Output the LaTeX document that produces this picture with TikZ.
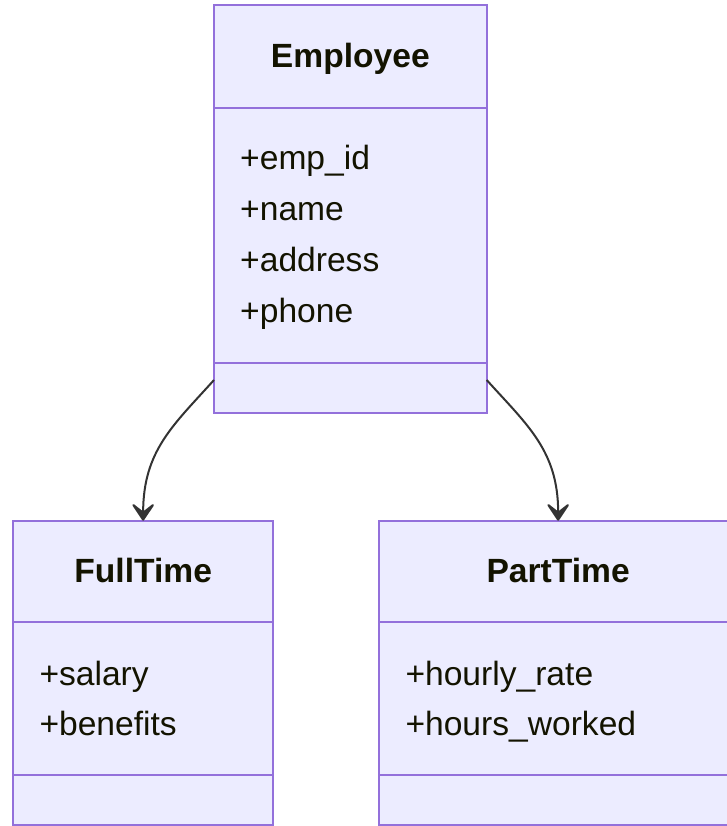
\documentclass[tikz,border=0pt]{standalone}
\usepackage{fontspec}
\setmainfont{Liberation Sans}
\usetikzlibrary{arrows.meta,calc}
\definecolor{boxfill}{HTML}{ECECFF}
\definecolor{boxline}{HTML}{9370DB}
\definecolor{txtcol}{HTML}{131300}
\definecolor{edgecol}{HTML}{333333}
\begin{document}
\begin{tikzpicture}[x=1pt,y=-1pt,
  classbox/.style={rectangle, draw=boxline, fill=boxfill, line width=2pt, inner sep=0pt, outer sep=0pt},
  divider/.style={draw=boxline, line width=2pt},
  titletext/.style={anchor=base, inner sep=0pt, text=txtcol, font=\fontsize{33.6}{40}\selectfont\bfseries},
  attrtext/.style={anchor=base west, inner sep=0pt, text=txtcol, font=\fontsize{33.6}{40}\selectfont},
  edgeline/.style={draw=edgecol, line width=2pt, -{Stealth[length=21pt,width=28pt,inset=11pt,round]}}
]
\useasboundingbox (0,0) rectangle (727,826);
\clip (0,0) rectangle (727,826);

% Employee
\node[classbox, minimum width=272.7pt, minimum height=407.8pt] (emp) at (350.35,209.4) {};
\draw[divider] ($(emp.north west)+(0,102.2)$) -- ($(emp.north east)+(0,102.2)$);
\draw[divider] ($(emp.south west)+(0,-50)$) -- ($(emp.south east)+(0,-50)$);
\node[titletext] (empT) at ($(emp.north)+(0,62.5)$) {Employee};
\node[attrtext] (empA) at ($(emp.north west)+(26,164.3)$) {+emp\_id};
\node[attrtext] (empB) at ($(emp.north west)+(26,215.1)$) {+name};
\node[attrtext] (empC) at ($(emp.north west)+(26,265.9)$) {+address};
\node[attrtext] (empD) at ($(emp.north west)+(26,316.7)$) {+phone};

% FullTime
\node[classbox, minimum width=259.7pt, minimum height=304.6pt] (full) at (143.15,673) {};
\draw[divider] ($(full.north west)+(0,101.6)$) -- ($(full.north east)+(0,101.6)$);
\draw[divider] ($(full.south west)+(0,-50)$) -- ($(full.south east)+(0,-50)$);
\node[titletext] (fullT) at ($(full.north)+(0,62)$) {FullTime};
\node[attrtext] (fullA) at ($(full.north west)+(26,164.3)$) {+salary};
\node[attrtext] (fullB) at ($(full.north west)+(26,214.8)$) {+benefits};

% PartTime
\node[classbox, minimum width=357.7pt, minimum height=304.6pt] (part) at (558.15,673) {};
\draw[divider] ($(part.north west)+(0,101.6)$) -- ($(part.north east)+(0,101.6)$);
\draw[divider] ($(part.south west)+(0,-50)$) -- ($(part.south east)+(0,-50)$);
\node[titletext] (partT) at ($(part.north)+(0,62)$) {PartTime};
\node[attrtext] (partA) at ($(part.north west)+(26,164.3)$) {+hourly\_rate};
\node[attrtext] (partB) at ($(part.north west)+(26,214.8)$) {+hours\_worked};

% connectors
\coordinate (eL) at ($(emp.south west)+(0,-33.3)$);
\coordinate (eR) at ($(emp.south east)+(0,-33.3)$);
\draw[edgeline] (eL) .. controls ($(eL)+(-40.5,45)$) and ($(full.north)+(0,-70)$) .. (full.north);
\draw[edgeline] (eR) .. controls ($(eR)+(40.5,45)$) and ($(part.north)+(0,-70)$) .. (part.north);
\end{tikzpicture}
\end{document}
